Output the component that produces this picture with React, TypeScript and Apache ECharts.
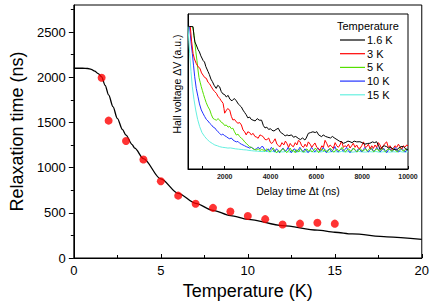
import React, { useEffect, useRef } from "react";
import * as echarts from "echarts";

// Main plot: measured relaxation times
const tempsK = [1.6, 2, 3, 4, 5, 6, 7, 8, 9, 10, 11, 12, 13, 14, 15];
const tauNs = [1995, 1520, 1295, 1090, 850, 690, 600, 555, 515, 465, 430, 370, 380, 390, 380];

// Main plot: fit curve
const fitT = [0, 0.5, 0.8, 1.0, 1.2, 1.4, 1.6, 1.8, 2.0, 2.25, 2.5, 2.8, 3.0, 3.35, 3.5, 4, 5, 6, 7, 8, 9, 10, 12, 14, 15, 16, 18, 20];
const fitTau = [2100, 2100, 2097, 2088, 2068, 2040, 2005, 1910, 1805, 1675, 1545, 1420, 1360, 1255, 1215, 1100, 875, 715, 605, 528, 470, 428, 358, 308, 285, 266, 234, 206];

const mainXTicks = [0, 5, 10, 15, 20];
const mainYMajor = [0, 500, 1000, 1500, 2000, 2500];
const mainYMinor = [250, 750, 1250, 1750, 2250, 2750];
const insetXLabels = [2000, 4000, 6000, 8000, 10000];
const insetXTicks = [1000, 2000, 3000, 4000, 5000, 6000, 7000, 8000, 9000, 10000];

// Inset: Hall voltage transients [delay time (ns), signal (a.u.)]
const names = ["1.6 K", "3 K", "5 K", "10 K", "15 K"];
const colors = ["#000000", "#ff0000", "#55e000", "#2233ff", "#66f0e0"];

const trace16K = [[450,92],[620,91.8],[660,86],[700,82],[760,80],[840,77],[900,75.5],[960,73],[1060,70],[1120,69],[1180,66],[1270,63],[1330,61],[1400,58],[1460,56.5],[1540,54],[1630,52],[1700,54],[1780,53],[1850,50],[1920,48.5],[2000,48],[2070,46.5],[2150,47.5],[2230,45],[2320,44],[2420,45.5],[2510,44],[2590,42],[2660,41],[2730,40],[2800,38],[2870,36.5],[2940,35],[3010,33],[3090,33.5],[3160,32],[3240,31.5],[3330,31],[3420,32.5],[3510,31.5],[3610,31.5],[3690,28],[3760,26.5],[3840,27],[3920,25.5],[4000,26],[4060,25],[4150,24.5],[4240,25.5],[4340,26.3],[4420,24],[4500,23],[4560,22.5],[4640,21.3],[4720,22],[4800,21.5],[4920,22],[5000,20.5],[5100,21],[5210,19.8],[5300,19],[5400,20],[5500,18.7],[5560,20],[5650,23],[5750,23.5],[5850,24],[5950,23.5],[6020,24.1],[6100,22],[6160,21.5],[6230,20.8],[6300,22],[6400,21],[6500,20.5],[6620,20],[6700,21],[6810,19.8],[6900,19],[7000,18],[7100,17.5],[7180,16.6],[7260,17],[7380,18],[7470,17.6],[7560,17],[7650,18],[7760,17.5],[7900,17.6],[8000,17],[8120,16],[8240,16.5],[8340,16.6],[8450,17.5],[8540,17],[8630,17.6],[8720,15],[8780,12.5],[8860,14],[8960,15],[9070,14.4],[9150,13.5],[9250,14],[9350,12.8],[9500,12.3],[9600,13.5],[9700,14.5],[9800,14.4],[9900,13],[10000,12.3]];

const trace3K = [[500,91.8],[560,82],[620,74.6],[680,71],[760,68],[840,66],[920,65],[990,62],[1055,60.6],[1130,59],[1200,58.5],[1270,56],[1340,55],[1420,53],[1480,51.5],[1560,50],[1640,48.8],[1700,47],[1780,45.6],[1850,44],[1930,42.4],[1970,39],[2000,36],[2060,37.5],[2130,39],[2220,38],[2290,34],[2360,31.6],[2430,32],[2500,30.5],[2580,29.5],[2650,30],[2730,28.4],[2800,25.2],[2870,24],[2940,22],[3010,24],[3090,23.5],[3160,22],[3240,23],[3320,21],[3400,20.5],[3460,19.8],[3540,22],[3610,21.5],[3680,20.9],[3760,19],[3840,18.9],[3920,20],[4000,17],[4060,16.5],[4120,17.6],[4200,19.5],[4280,16],[4350,15],[4420,14.4],[4500,17],[4580,15.5],[4650,18],[4710,16.6],[4790,14],[4860,16.5],[4930,15],[5000,14.4],[5080,17],[5150,15.5],[5220,18.5],[5290,17.6],[5360,15],[5440,14],[5510,16],[5580,14.4],[5650,17.5],[5730,16],[5800,14],[5870,15.5],[5940,16.8],[6020,14],[6090,13],[6160,12.3],[6240,15],[6310,14],[6380,18.5],[6450,16.6],[6530,14],[6600,15.5],[6670,14.5],[6740,13.3],[6820,17],[6890,15],[6960,14],[7030,15.5],[7100,18],[7180,14],[7250,15],[7330,14.4],[7400,16],[7470,13.5],[7540,15],[7610,16.6],[7690,14],[7760,15.5],[7830,13.5],[7910,13.3],[7980,15],[8060,17.5],[8130,14],[8200,14.4],[8270,16],[8350,13],[8420,15],[8490,13.3],[8560,15.5],[8630,14],[8710,17],[8780,15.5],[8850,13],[8920,15],[9000,16.6],[9070,17.5],[9140,14],[9220,15],[9290,12.5],[9360,13.3],[9430,15],[9510,14],[9580,16],[9650,14.4],[9720,13],[9800,15],[9870,14],[9940,15.5],[10000,15]];

const trace5K = [[600,91.8],[650,88],[690,83.2],[740,76],[790,70],[836,63.9],[880,59],[930,56],[980,53.1],[1030,50.5],[1080,48],[1130,45.6],[1190,43],[1260,40.5],[1350,38.1],[1420,35],[1490,32.7],[1560,32],[1640,31.5],[1710,32.5],[1780,31.6],[1860,30],[1930,29.5],[2000,28],[2070,28.4],[2150,27],[2220,27.5],[2290,26],[2360,26.3],[2430,24],[2510,21.9],[2580,22.5],[2650,21],[2730,19.8],[2800,19],[2870,17.5],[2940,16.6],[3010,15.5],[3090,14.4],[3160,14],[3240,13],[3320,12.5],[3380,12.3],[3460,13],[3540,12],[3610,12.5],[3680,12.3],[3760,11.5],[3830,13],[3900,12],[3980,11],[4050,12.5],[4120,13.5],[4200,11.5],[4270,10.5],[4350,12],[4420,11],[4490,12.5],[4570,13],[4640,11.5],[4710,10.5],[4790,12],[4860,13.5],[4930,11.5],[5010,12],[5080,10.5],[5150,12.5],[5230,11],[5300,13],[5370,12],[5440,10.8],[5520,12],[5590,13],[5660,11.5],[5740,12.5],[5810,11],[5880,12],[5960,13.5],[6030,12],[6100,10.5],[6170,12],[6250,13],[6320,11.5],[6390,12.5],[6470,11],[6540,12],[6610,13.5],[6690,12],[6760,10.8],[6830,12],[6900,13],[6980,11.5],[7050,12.5],[7120,14],[7200,12],[7270,11],[7340,12.5],[7410,13],[7490,11.5],[7560,12],[7630,13.5],[7710,12],[7780,11],[7850,12.5],[7930,13],[8000,11.5],[8070,12],[8150,13],[8220,11.5],[8290,12.5],[8370,14],[8440,12],[8510,11],[8580,12.5],[8660,13],[8730,11.5],[8800,12],[8880,13.5],[8950,12],[9020,11],[9090,12.5],[9170,13],[9240,12],[9310,11.5],[9390,13],[9460,12],[9530,11],[9610,12.5],[9680,13.5],[9750,12],[9830,11.5],[9900,13],[10000,12]];

const trace10K = [[470,91.8],[530,82],[588,74.6],[640,67],[692,59.5],[760,52],[836,46.6],[900,42],[980,38.1],[1050,36],[1129,33.8],[1200,32],[1270,31],[1347,29.5],[1420,28.5],[1500,27],[1570,26.5],[1635,25.2],[1710,24],[1780,23],[1853,21.9],[1920,22.5],[2000,21.5],[2071,20.9],[2150,20],[2220,19.5],[2290,20],[2364,18.7],[2440,18],[2510,17.5],[2580,17.8],[2656,16.6],[2730,16],[2800,15.5],[2870,15],[2944,14.4],[3020,14],[3090,13.5],[3160,14],[3237,13.3],[3310,12.5],[3380,13],[3460,14],[3540,13],[3610,14.5],[3673,14.4],[3740,12.5],[3820,11.5],[3890,13],[3960,12],[4040,14],[4110,12.5],[4180,11],[4260,13],[4330,12],[4400,10.5],[4480,12.5],[4550,13.5],[4620,11.5],[4700,12],[4770,14],[4840,12],[4910,10.5],[4990,12.5],[5060,13],[5130,11],[5210,12],[5280,14],[5350,12.5],[5420,11],[5500,13],[5570,12],[5640,10.5],[5720,12],[5790,14],[5860,12.5],[5930,11],[6010,12.5],[6080,13.5],[6150,11.5],[6230,12],[6300,14],[6370,12],[6440,10.5],[6520,12.5],[6590,13],[6660,11],[6740,12.5],[6810,14.5],[6880,12],[6960,11],[7030,12.5],[7100,13],[7170,11.5],[7250,12.5],[7320,14],[7390,12],[7470,10.5],[7540,12],[7610,13.5],[7690,12],[7760,11],[7830,13],[7900,12.5],[7980,11],[8050,12.5],[8120,14],[8200,12],[8270,11],[8340,12.5],[8420,13.5],[8490,11.5],[8560,12],[8640,14],[8710,12.5],[8780,11],[8850,12],[8930,13.5],[9000,12],[9070,10.5],[9150,12.5],[9220,13],[9290,11.5],[9360,12],[9440,14],[9510,12.5],[9580,11],[9660,12],[9730,13.5],[9800,12],[9880,11],[9950,12.5],[10000,13]];

const trace15K = [[400,91.8],[440,82],[474,74.6],[530,63],[588,53.1],[660,45],[736,38.1],[820,32],[910,27.3],[1010,23.5],[1129,20.9],[1240,19],[1347,17.6],[1460,16.5],[1570,15.5],[1680,15],[1783,14.4],[1900,14],[2020,13.8],[2140,13.5],[2250,13.6],[2364,13.3],[2480,13],[2600,12.8],[2720,12.6],[2830,12.4],[2944,12.3],[3060,12],[3180,11.8],[3300,11.6],[3420,11.5],[3540,11.3],[3673,11.2],[3800,11.5],[3950,11],[4100,11.3],[4250,10.8],[4400,11.2],[4550,11],[4700,11.4],[4850,10.9],[5000,11.2],[5150,11],[5300,11.3],[5450,10.8],[5600,11.1],[5750,11.3],[5900,10.9],[6050,11.2],[6200,11],[6350,11.4],[6500,10.8],[6650,11.1],[6800,11.2],[6950,10.9],[7100,11.3],[7250,11],[7400,11.2],[7550,10.8],[7700,11.1],[7850,11.3],[8000,11],[8150,10.9],[8300,11.2],[8450,11],[8600,11.3],[8750,10.8],[8900,11.1],[9050,11.2],[9200,10.9],[9350,11.1],[9500,11],[9650,11.3],[9800,10.9],[10000,11.1]];

const traces = [trace16K, trace3K, trace5K, trace10K, trace15K];

const FONT = "Liberation Sans, Arial, sans-serif";
const plain = (v: number) => String(v);

export default function App() {
  const ref = useRef<HTMLDivElement>(null);
  useEffect(() => {
    if (!ref.current) return;
    const chart = echarts.init(ref.current, null, { renderer: "svg" });
    const axisLine = { show: true, lineStyle: { color: "#000", width: 1 } };
    chart.setOption({
      animation: false,
      backgroundColor: "#fff",
      textStyle: { fontFamily: FONT },
      title: {
        text: "Temperature",
        left: 337,
        top: 20,
        padding: 0,
        textStyle: { fontSize: 11, fontWeight: "normal", color: "#000", fontFamily: FONT },
      },
      legend: {
        data: names,
        orient: "vertical",
        left: 340,
        top: 34,
        padding: 0,
        icon: "rect",
        itemWidth: 25,
        itemHeight: 1.2,
        itemGap: 1.7,
        textStyle: { fontSize: 11, color: "#000", fontFamily: FONT, lineHeight: 12, padding: [0, 0, 0, -3] },
      },
      grid: [
        { left: 63, top: 5, width: 360, height: 253, show: true, borderColor: "#000", borderWidth: 1 },
        { left: 188, top: 14, width: 220, height: 155, show: true, borderColor: "#000", borderWidth: 1, backgroundColor: "#fff" },
      ],
      xAxis: [
        {
          type: "value",
          gridIndex: 0,
          min: 0,
          max: 20,
          interval: 5,
          axisLine,
          axisTick: { show: true, inside: true, length: 4, lineStyle: { color: "#000" } },
          minorTick: { show: true, splitNumber: 2, length: 3, lineStyle: { color: "#000" } },
          splitLine: { show: false },
          axisLabel: {
            fontSize: 13,
            color: "#000",
            margin: 6,
            fontFamily: FONT,
            customValues: mainXTicks,
            formatter: plain,
          },
          name: "Temperature (K)",
          nameLocation: "middle",
          nameGap: 23,
          nameTextStyle: { fontSize: 18, color: "#000", fontFamily: FONT },
        },
        {
          type: "value",
          gridIndex: 1,
          min: 400,
          max: 10000,
          axisLine,
          axisTick: { show: true, inside: true, length: 3, customValues: insetXTicks, lineStyle: { color: "#000" } },
          splitLine: { show: false },
          axisLabel: {
            fontSize: 7,
            fontWeight: "bold",
            color: "#222",
            margin: 4,
            fontFamily: FONT,
            customValues: insetXLabels,
            formatter: plain,
          },
          name: "Delay time \u0394t (ns)",
          nameLocation: "middle",
          nameGap: 16,
          nameTextStyle: { fontSize: 10.5, color: "#000", fontFamily: FONT },
        },
      ],
      yAxis: [
        {
          type: "value",
          gridIndex: 0,
          min: 0,
          max: 2800,
          axisLine,
          axisTick: { show: true, length: 5, customValues: mainYMajor, lineStyle: { color: "#000" } },
          splitLine: { show: false },
          axisLabel: { fontSize: 13, color: "#000", margin: 8, fontFamily: FONT, customValues: mainYMajor, formatter: plain },
          name: "Relaxation time (ns)",
          nameLocation: "middle",
          nameGap: 44,
          nameTextStyle: { fontSize: 18, color: "#000", fontFamily: FONT },
        },
        {
          type: "value",
          gridIndex: 1,
          min: 0,
          max: 100,
          axisLine,
          axisTick: { show: false },
          axisLabel: { show: false },
          splitLine: { show: false },
          name: "Hall voltage \u0394V (a.u.)",
          nameLocation: "middle",
          nameGap: 6,
          nameTextStyle: { fontSize: 10.5, color: "#000", fontFamily: FONT, padding: [0, 0, 0, 15] },
        },
        {
          type: "value",
          gridIndex: 0,
          position: "left",
          min: 0,
          max: 2800,
          axisLine: { show: false },
          axisTick: { show: true, length: 3, customValues: mainYMinor, lineStyle: { color: "#000" } },
          axisLabel: { show: false },
          splitLine: { show: false },
        },
      ],
      series: [
        {
          type: "line",
          name: "fit",
          xAxisIndex: 0,
          yAxisIndex: 0,
          data: fitT.map((t, i) => [t, fitTau[i]]),
          smooth: 0.3,
          smoothMonotone: "x",
          symbol: "none",
          lineStyle: { color: "#000", width: 1.3 },
          z: 2,
        },
        {
          type: "scatter",
          name: "data",
          xAxisIndex: 0,
          yAxisIndex: 0,
          data: tempsK.map((t, i) => [t, tauNs[i]]),
          symbol: "circle",
          symbolSize: 8,
          itemStyle: { color: "#ff0000" },
          z: 3,
        },
        ...traces.map((tr, i) => ({
          type: "line",
          name: names[i],
          xAxisIndex: 1,
          yAxisIndex: 1,
          data: tr,
          symbol: "none",
          lineStyle: { color: colors[i], width: 1 },
          itemStyle: { color: colors[i] },
          z: 5 - i,
        })),
      ],
    });
    return () => chart.dispose();
  }, []);
  return <div ref={ref} style={{ position: "fixed", left: 0, top: 0, width: 432, height: 305 }} />;
}
